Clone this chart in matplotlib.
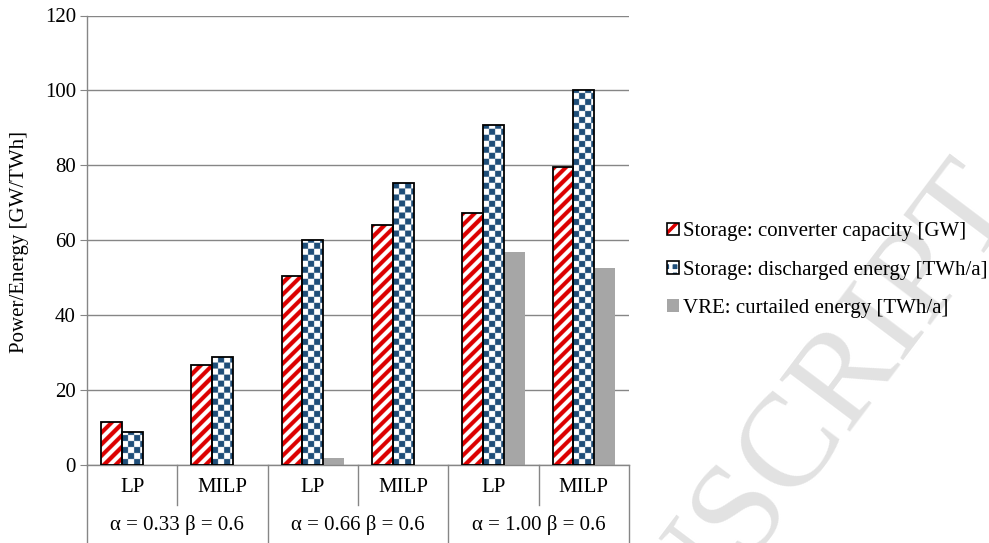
import numpy as np
import matplotlib
matplotlib.use("Agg")
import matplotlib.pyplot as plt
import matplotlib.transforms as mtrans
from matplotlib.colors import ListedColormap
from matplotlib.patches import Patch
from matplotlib.legend_handler import HandlerTuple

# data
methods = ["LP", "MILP", "LP", "MILP", "LP", "MILP"]
groups = ["α = 0.33 β = 0.6", "α = 0.66 β = 0.6", "α = 1.00 β = 0.6"]
converter = [11.4, 26.7, 50.4, 64.0, 67.4, 79.5]
discharged = [8.8, 28.7, 60.0, 75.4, 90.7, 100.1]
curtailed = [0.0, 0.0, 1.9, 0.0, 56.8, 52.5]
labels = ["Storage: converter capacity [GW]",
          "Storage: discharged energy [TWh/a]",
          "VRE: curtailed energy [TWh/a]"]

plt.rcParams["font.family"] = ["Liberation Serif", "DejaVu Serif"]
plt.rcParams["hatch.linewidth"] = 2.5

red = "#dc0000"
blue = "#1f4e79"
grey_bar = "#a6a6a6"
axis_grey = "#868686"
fs = 15

fig = plt.figure(figsize=(9.89, 5.43), dpi=100)
ax = fig.add_axes([87 / 989, 78 / 543, (629 - 87) / 989, (465 - 15.5) / 543])
ax.set_facecolor("none")
ax.set_xlim(-0.5, len(methods) - 0.5)
ax.set_ylim(0, 120)

x = np.arange(len(methods))
w = 0.23

# pixels per data unit, used to lay the fill patterns out in pixels
p0 = ax.transData.transform((0, 0))
p1 = ax.transData.transform((1, 1))
sx, sy = p1[0] - p0[0], p1[1] - p0[1]


def pattern_fill(bar, kind, color, sub=3):
    # draws a stripe / checker image clipped to the bar
    wpx, hpx = bar.get_width() * sx, bar.get_height() * sy
    nx, ny = int(np.ceil(wpx * sub)), int(np.ceil(hpx * sub)) + 1
    jx = (np.arange(nx) + 0.5) / sub
    iy = (np.arange(ny) + 0.5) / sub
    J, I = np.meshgrid(jx, iy)
    if kind == "stripes":
        period = 11.5
        val = ((J - I) % period) < period / 2
    else:
        cell = 6.0
        val = ((J // cell + I // cell) % 2) == 0
    im = ax.imshow(val.astype(float), cmap=ListedColormap(["white", color]),
                   vmin=0, vmax=1, origin="lower", interpolation="antialiased",
                   interpolation_stage="rgba", aspect="auto", zorder=3,
                   extent=(bar.get_x(), bar.get_x() + nx / sub / sx, 0, ny / sub / sy))
    im.set_clip_path(bar)


red_bars = ax.bar(x - w, converter, w, color="white", lw=0, zorder=2)
for b in red_bars:
    pattern_fill(b, "stripes", red)
ax.bar(x - w, converter, w, fill=False, edgecolor="black", lw=1.3, zorder=4)

blue_bars = ax.bar(x, discharged, w, color="white", lw=0, zorder=2)
for b in blue_bars:
    pattern_fill(b, "checker", blue)
ax.bar(x, discharged, w, fill=False, edgecolor="black", lw=1.3, zorder=4)

ax.bar(x + w, curtailed, w, color=grey_bar, lw=0, zorder=2)

ax.set_xlim(-0.5, len(methods) - 0.5)
ax.set_ylim(0, 120)
ax.set_yticks(range(0, 121, 20))
ax.yaxis.grid(True, color=axis_grey, lw=1.0, zorder=0)
ax.set_axisbelow(True)
for s in ["top", "right"]:
    ax.spines[s].set_visible(False)
for s in ["left", "bottom"]:
    ax.spines[s].set_color(axis_grey)
    ax.spines[s].set_linewidth(1.0)
ax.tick_params(axis="y", length=5, color=axis_grey, labelsize=fs, pad=3)
ax.set_xticks([])
fig.text(20 / 989, 1 - 242 / 543, "Power/Energy [GW/TWh]", rotation=90,
         ha="center", va="center", fontsize=fs)

# two-level category axis
tr = mtrans.blended_transform_factory(ax.transData, ax.transAxes)
hpx = 449.5
for xi in [0.5, 2.5, 4.5]:
    ax.plot([xi, xi], [0, -40 / hpx], transform=tr, color=axis_grey, lw=1.0, clip_on=False)
for xi in [-0.5, 1.5, 3.5, 5.5]:
    ax.plot([xi, xi], [0, -80 / hpx], transform=tr, color=axis_grey, lw=1.0, clip_on=False)
for xi, m in zip(x, methods):
    ax.text(xi, -22 / hpx, m, transform=tr, ha="center", va="center", fontsize=fs)
for k, g in enumerate(groups):
    ax.text(2 * k + 0.5, -60 / hpx, g, transform=tr, ha="center", va="center", fontsize=fs)

# legend
edge = dict(fill=False, edgecolor="black", lw=1.2)
h1 = (Patch(facecolor="white", edgecolor=red, hatch="//", lw=0), Patch(**edge))
h2 = (Patch(facecolor=blue, edgecolor="white", hatch="++", lw=0), Patch(**edge))
h3 = Patch(facecolor=grey_bar, lw=0)
fig.legend([h1, h2, h3], labels, handler_map={tuple: HandlerTuple(ndivide=1)},
           loc="center left", bbox_to_anchor=(667 / 989, 1 - 270 / 543),
           frameon=False, fontsize=fs, handlelength=0.58, handleheight=0.58,
           handletextpad=0.2, labelspacing=0.92, borderpad=0, borderaxespad=0)

# faint watermark of the source
fig.text(995 / 989, 1 - 184 / 543, "ACCEPTED MANUSCRIPT", fontsize=96, color="#e2e2e2",
         rotation=53, rotation_mode="anchor", ha="right", va="center", zorder=-1)

fig.savefig("out.png", dpi=100, facecolor="w")
